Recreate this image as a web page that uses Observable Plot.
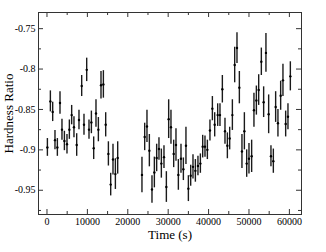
<!DOCTYPE html>
<html>
<head>
<meta charset="utf-8">
<script src="https://cdn.jsdelivr.net/npm/d3@7"></script>
<script src="https://cdn.jsdelivr.net/npm/@observablehq/plot@0.6"></script>
<style>
  html, body { margin: 0; padding: 0; background: #fff; }
  svg { display: block; }
</style>
</head>
<body>
<script>
const time = [100, 840, 1410, 1980, 2570, 3220, 3710, 4310, 4950, 5540, 6110, 6680, 7350, 7920, 8590, 9160, 9830, 10400, 10990, 11560, 12130, 12720, 13370, 13960, 14530, 15200, 15770, 16340, 16930, 17500,
  23510, 24180, 24750, 25340, 25990, 26580, 27150, 27720, 28310, 28960, 29550, 30120, 30690, 31360, 31930, 32520, 33170, 33760, 34400, 35000, 35570, 36140, 36730, 37370, 37970, 38540, 39110, 39700, 40340, 40940, 41510,
  42250, 42820, 43410, 44060, 44650, 45220, 45890, 46460, 47030, 47620, 48260, 48860, 49430, 50000, 50660, 51230, 51830, 52400, 53060, 53630, 54200, 54870, 55440, 56030, 56600, 57170, 57840, 58410, 59080, 59650, 60240];
const ratio = [-0.897, -0.840, -0.853, -0.888, -0.897, -0.842, -0.875, -0.889, -0.893, -0.875, -0.857, -0.872, -0.894, -0.863, -0.821, -0.869, -0.801, -0.875, -0.866, -0.898, -0.855, -0.875, -0.820, -0.819, -0.869, -0.905, -0.943, -0.912, -0.930, -0.910,
  -0.931, -0.884, -0.871, -0.901, -0.949, -0.928, -0.910, -0.899, -0.917, -0.909, -0.946, -0.862, -0.872, -0.905, -0.894, -0.931, -0.911, -0.924, -0.895, -0.948, -0.932, -0.921, -0.926, -0.920, -0.917, -0.896, -0.896, -0.900, -0.876, -0.849, -0.869,
  -0.857, -0.857, -0.825, -0.877, -0.895, -0.886, -0.857, -0.795, -0.774, -0.823, -0.902, -0.877, -0.917, -0.911, -0.908, -0.851, -0.839, -0.826, -0.791, -0.841, -0.780, -0.856, -0.908, -0.914, -0.847, -0.867, -0.833, -0.814, -0.868, -0.859, -0.809];
const err = [0.011, 0.013, 0.012, 0.012, 0.011, 0.014, 0.013, 0.012, 0.012, 0.012, 0.012, 0.013, 0.014, 0.012, 0.013, 0.013, 0.0145, 0.012, 0.014, 0.014, 0.017, 0.015, 0.017, 0.017, 0.015, 0.015, 0.014, 0.019, 0.019, 0.020,
  0.022, 0.017, 0.020, 0.020, 0.017, 0.019, 0.017, 0.014, 0.018, 0.014, 0.019, 0.024, 0.021, 0.017, 0.020, 0.019, 0.018, 0.014, 0.023, 0.016, 0.013, 0.015, 0.014, 0.012, 0.012, 0.014, 0.013, 0.012, 0.013, 0.015, 0.015,
  0.014, 0.014, 0.017, 0.016, 0.016, 0.014, 0.019, 0.022, 0.019, 0.020, 0.021, 0.023, 0.017, 0.019, 0.020, 0.021, 0.018, 0.019, 0.017, 0.019, 0.024, 0.024, 0.013, 0.015, 0.019, 0.017, 0.018, 0.020, 0.016, 0.016, 0.018];

const xMajor = [0, 10000, 20000, 30000, 40000, 50000, 60000];
const xMinor = [5000, 15000, 25000, 35000, 45000, 55000];
const yMajor = [-0.95, -0.9, -0.85, -0.8, -0.75];
const yMinor = [-0.975, -0.925, -0.875, -0.825, -0.775];
const xLabel = "Time (s)";
const yLabel = "Hardness Ratio";

const rows = time.map((t, i) => ({t, v: ratio[i], e: err[i]}));

const W = 326, H = 252;
const mL = 38, mR = 25, mT = 12, mB = 38;
const FW = W - mL - mR, FH = H - mT - mB;
const major = 5, minor = 3;
const axisColor = "#333";
const font = "Liberation Serif";

const chart = Plot.plot({
  width: W,
  height: H,
  marginLeft: mL,
  marginRight: mR,
  marginTop: mT,
  marginBottom: mB,
  style: {fontFamily: font, fontSize: "10px", color: "#000", background: "#fff"},
  x: {domain: [-2100, 63000]},
  y: {domain: [-0.98, -0.73]},
  marks: [
    Plot.ruleX(xMajor, {x: d => d, insetTop: FH - major, stroke: axisColor}),
    Plot.ruleX(xMajor, {x: d => d, insetBottom: FH - major, stroke: axisColor}),
    Plot.ruleX(xMinor, {x: d => d, insetTop: FH - minor, stroke: axisColor}),
    Plot.ruleX(xMinor, {x: d => d, insetBottom: FH - minor, stroke: axisColor}),
    Plot.ruleY(yMajor, {y: d => d, insetRight: FW - major, stroke: axisColor}),
    Plot.ruleY(yMajor, {y: d => d, insetLeft: FW - major, stroke: axisColor}),
    Plot.ruleY(yMinor, {y: d => d, insetRight: FW - minor, stroke: axisColor}),
    Plot.ruleY(yMinor, {y: d => d, insetLeft: FW - minor, stroke: axisColor}),
    Plot.axisX({ticks: xMajor, tickSize: 0, tickPadding: 3, tickFormat: d => String(d), label: null, fontSize: 10, fontFamily: font}),
    Plot.axisY({ticks: yMajor, tickSize: 0, tickPadding: 3, tickFormat: d => String(d), label: null, fontSize: 10, fontFamily: font}),
    Plot.frame({stroke: axisColor}),
    Plot.ruleX(rows, {x: "t", y1: d => d.v - d.e, y2: d => d.v + d.e, stroke: "#1a1a1a", strokeWidth: 1.4}),
    Plot.dot(rows, {x: "t", y: "v", r: 1.2, fill: "#000", stroke: null}),
    Plot.text([xLabel], {text: d => d, frameAnchor: "bottom", textAnchor: "middle", dy: 24, lineAnchor: "bottom", fontSize: 13, fontFamily: font, fill: "#000"}),
    Plot.text([yLabel], {text: d => d, frameAnchor: "left", textAnchor: "middle", dx: -25.5, rotate: -90, lineAnchor: "bottom", fontSize: 13, fontFamily: font, fill: "#000"})
  ]
});
document.body.appendChild(chart);
</script>
</body>
</html>
